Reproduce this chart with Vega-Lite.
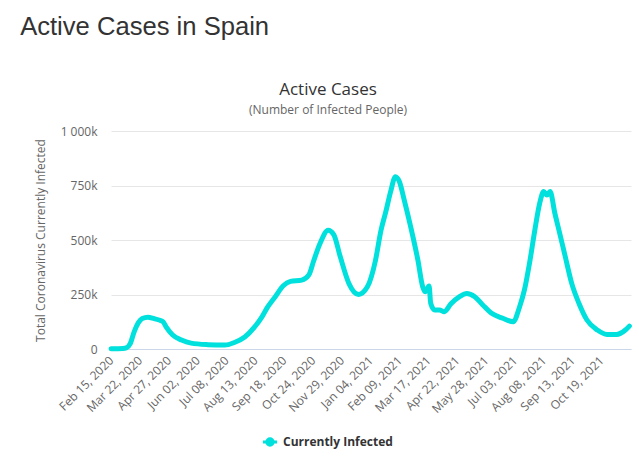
{
  "$schema": "https://vega.github.io/schema/vega-lite/v6.json",
  "background": "white",
  "padding": {"top": 15, "left": 20, "right": 11, "bottom": 10},
  "title": {"text": "Active Cases in Spain", "anchor": "start", "font": "Liberation Sans", "fontSize": 25.6, "fontWeight": "normal", "color": "#333333", "offset": 40, "dx": -14},
  "data": {"values": [
    {"date": "2020/02/15", "value": 1000, "series": "Currently Infected"},
    {"date": "2020/03/01", "value": 2000, "series": "Currently Infected"},
    {"date": "2020/03/05", "value": 5000, "series": "Currently Infected"},
    {"date": "2020/03/10", "value": 25000, "series": "Currently Infected"},
    {"date": "2020/03/15", "value": 80000, "series": "Currently Infected"},
    {"date": "2020/03/20", "value": 120000, "series": "Currently Infected"},
    {"date": "2020/03/25", "value": 140000, "series": "Currently Infected"},
    {"date": "2020/04/01", "value": 146000, "series": "Currently Infected"},
    {"date": "2020/04/09", "value": 139000, "series": "Currently Infected"},
    {"date": "2020/04/16", "value": 132000, "series": "Currently Infected"},
    {"date": "2020/04/20", "value": 125000, "series": "Currently Infected"},
    {"date": "2020/04/24", "value": 100000, "series": "Currently Infected"},
    {"date": "2020/05/02", "value": 64000, "series": "Currently Infected"},
    {"date": "2020/05/13", "value": 41000, "series": "Currently Infected"},
    {"date": "2020/05/25", "value": 27000, "series": "Currently Infected"},
    {"date": "2020/06/15", "value": 20000, "series": "Currently Infected"},
    {"date": "2020/07/06", "value": 18000, "series": "Currently Infected"},
    {"date": "2020/07/18", "value": 30000, "series": "Currently Infected"},
    {"date": "2020/07/31", "value": 55000, "series": "Currently Infected"},
    {"date": "2020/08/12", "value": 100000, "series": "Currently Infected"},
    {"date": "2020/08/21", "value": 145000, "series": "Currently Infected"},
    {"date": "2020/08/28", "value": 190000, "series": "Currently Infected"},
    {"date": "2020/09/07", "value": 240000, "series": "Currently Infected"},
    {"date": "2020/09/17", "value": 290000, "series": "Currently Infected"},
    {"date": "2020/09/26", "value": 310000, "series": "Currently Infected"},
    {"date": "2020/10/10", "value": 316000, "series": "Currently Infected"},
    {"date": "2020/10/19", "value": 340000, "series": "Currently Infected"},
    {"date": "2020/10/25", "value": 405000, "series": "Currently Infected"},
    {"date": "2020/11/02", "value": 485000, "series": "Currently Infected"},
    {"date": "2020/11/12", "value": 545000, "series": "Currently Infected"},
    {"date": "2020/11/19", "value": 525000, "series": "Currently Infected"},
    {"date": "2020/11/27", "value": 425000, "series": "Currently Infected"},
    {"date": "2020/12/08", "value": 300000, "series": "Currently Infected"},
    {"date": "2020/12/20", "value": 250000, "series": "Currently Infected"},
    {"date": "2020/12/31", "value": 285000, "series": "Currently Infected"},
    {"date": "2021/01/10", "value": 405000, "series": "Currently Infected"},
    {"date": "2021/01/17", "value": 545000, "series": "Currently Infected"},
    {"date": "2021/01/23", "value": 630000, "series": "Currently Infected"},
    {"date": "2021/01/29", "value": 722000, "series": "Currently Infected"},
    {"date": "2021/02/04", "value": 790000, "series": "Currently Infected"},
    {"date": "2021/02/09", "value": 767000, "series": "Currently Infected"},
    {"date": "2021/02/15", "value": 683000, "series": "Currently Infected"},
    {"date": "2021/02/23", "value": 561000, "series": "Currently Infected"},
    {"date": "2021/03/04", "value": 408000, "series": "Currently Infected"},
    {"date": "2021/03/10", "value": 286000, "series": "Currently Infected"},
    {"date": "2021/03/13", "value": 263000, "series": "Currently Infected"},
    {"date": "2021/03/18", "value": 289000, "series": "Currently Infected"},
    {"date": "2021/03/20", "value": 210000, "series": "Currently Infected"},
    {"date": "2021/03/25", "value": 179000, "series": "Currently Infected"},
    {"date": "2021/03/31", "value": 179000, "series": "Currently Infected"},
    {"date": "2021/04/06", "value": 171000, "series": "Currently Infected"},
    {"date": "2021/04/14", "value": 206000, "series": "Currently Infected"},
    {"date": "2021/04/25", "value": 240000, "series": "Currently Infected"},
    {"date": "2021/05/04", "value": 255000, "series": "Currently Infected"},
    {"date": "2021/05/14", "value": 240000, "series": "Currently Infected"},
    {"date": "2021/05/24", "value": 202000, "series": "Currently Infected"},
    {"date": "2021/06/04", "value": 164000, "series": "Currently Infected"},
    {"date": "2021/06/18", "value": 141000, "series": "Currently Infected"},
    {"date": "2021/07/01", "value": 125000, "series": "Currently Infected"},
    {"date": "2021/07/09", "value": 194000, "series": "Currently Infected"},
    {"date": "2021/07/15", "value": 271000, "series": "Currently Infected"},
    {"date": "2021/07/22", "value": 408000, "series": "Currently Infected"},
    {"date": "2021/07/28", "value": 546000, "series": "Currently Infected"},
    {"date": "2021/08/03", "value": 668000, "series": "Currently Infected"},
    {"date": "2021/08/08", "value": 722000, "series": "Currently Infected"},
    {"date": "2021/08/12", "value": 706000, "series": "Currently Infected"},
    {"date": "2021/08/16", "value": 722000, "series": "Currently Infected"},
    {"date": "2021/08/22", "value": 622000, "series": "Currently Infected"},
    {"date": "2021/08/28", "value": 531000, "series": "Currently Infected"},
    {"date": "2021/09/04", "value": 423000, "series": "Currently Infected"},
    {"date": "2021/09/12", "value": 301000, "series": "Currently Infected"},
    {"date": "2021/09/21", "value": 210000, "series": "Currently Infected"},
    {"date": "2021/10/01", "value": 133000, "series": "Currently Infected"},
    {"date": "2021/10/14", "value": 87000, "series": "Currently Infected"},
    {"date": "2021/10/26", "value": 67000, "series": "Currently Infected"},
    {"date": "2021/11/07", "value": 67000, "series": "Currently Infected"},
    {"date": "2021/11/18", "value": 87000, "series": "Currently Infected"},
    {"date": "2021/11/23", "value": 105000, "series": "Currently Infected"}
  ]},
  "vconcat": [
    {
      "width": 520,
      "height": 218,
      "title": {"text": "Active Cases", "subtitle": "(Number of Infected People)", "anchor": "middle", "frame": "bounds", "font": "Open Sans", "fontSize": 17, "fontWeight": "normal", "color": "#333333", "subtitleFont": "Open Sans", "subtitleFontSize": 12, "subtitleColor": "#666666", "subtitlePadding": 6, "offset": 8, "dx": -5},
      "mark": {"type": "line", "strokeWidth": 5, "interpolate": "monotone", "strokeCap": "round", "strokeJoin": "round"},
      "encoding": {
        "x": {"field": "date", "type": "temporal",
          "scale": {"domain": [{"year": 2020, "month": 2, "date": 15}, {"year": 2021, "month": 11, "date": 25}]},
          "axis": {"title": null, "format": "%b %d, %Y", "labelAngle": -45, "labelAlign": "right", "labelBaseline": "middle",
            "values": [
              {"year": 2020, "month": 2, "date": 15}, {"year": 2020, "month": 3, "date": 22}, {"year": 2020, "month": 4, "date": 27},
              {"year": 2020, "month": 6, "date": 2}, {"year": 2020, "month": 7, "date": 8}, {"year": 2020, "month": 8, "date": 13},
              {"year": 2020, "month": 9, "date": 18}, {"year": 2020, "month": 10, "date": 24}, {"year": 2020, "month": 11, "date": 29},
              {"year": 2021, "month": 1, "date": 4}, {"year": 2021, "month": 2, "date": 9}, {"year": 2021, "month": 3, "date": 17},
              {"year": 2021, "month": 4, "date": 22}, {"year": 2021, "month": 5, "date": 28}, {"year": 2021, "month": 7, "date": 3},
              {"year": 2021, "month": 8, "date": 8}, {"year": 2021, "month": 9, "date": 13}, {"year": 2021, "month": 10, "date": 19}
            ],
            "grid": false, "ticks": false, "domain": true, "domainColor": "#ccd6eb", "domainWidth": 1,
            "labelFont": "Open Sans", "labelFontSize": 12, "labelColor": "#666666", "labelPadding": 9, "labelOverlap": false, "labelFlush": false}},
        "y": {"field": "value", "type": "quantitative",
          "scale": {"domain": [0, 1000000]},
          "axis": {"title": "Total Coronavirus Currently Infected", "titleFont": "Open Sans", "titleFontSize": 12, "titleFontWeight": "normal", "titleColor": "#666666", "titlePadding": 13,
            "values": [0, 250000, 500000, 750000, 1000000],
            "labelExpr": "datum.value == 0 ? '0' : datum.value == 1000000 ? '1 000k' : format(datum.value / 1000, 'd') + 'k'",
            "grid": true, "gridColor": "#e6e6e6", "ticks": false, "domain": false,
            "labelFont": "Open Sans", "labelFontSize": 12, "labelColor": "#666666", "labelPadding": 14}},
        "color": {"field": "series", "type": "nominal",
          "scale": {"range": ["#00e0dc"]},
          "legend": {"title": null, "orient": "none", "legendX": 150, "legendY": 302, "direction": "horizontal",
            "symbolType": "M-1,0L1,0M-0.45,0A0.45,0.45 0 1,0 0.45,0A0.45,0.45 0 1,0 -0.45,0",
            "symbolSize": 200, "symbolStrokeWidth": 3, "symbolFillColor": "#00e0dc",
            "labelFont": "Open Sans", "labelFontSize": 12, "labelFontWeight": "bold", "labelColor": "#333333"}}
      }
    }
  ],
  "config": {"view": {"stroke": null}}
}
